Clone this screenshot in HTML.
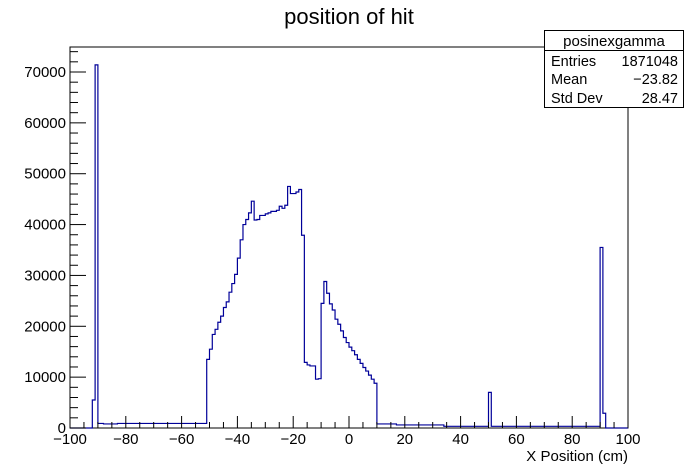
<!DOCTYPE html>
<html><head><meta charset="utf-8"><style>
body{margin:0;background:#fff;}
svg{display:block;font-family:"Liberation Sans",sans-serif;}
</style></head><body>
<svg id="c" width="698" height="476"></svg>
<script>
const binLow = -100, binWidth = 1;
const counts = [
0,0,0,0,0,0,0,0,            // -100..-93
5500,71400,                  // -92,-91
900,900,800,800,800,800,800,900,900,900, // -90..-81
900,900,900,900,900,900,900,900,900,900, // -80..-71
900,900,900,900,900,900,900,900,900,900, // -70..-61
900,900,900,900,900,900,900,900,900,     // -60..-52
13500,15500,18400,19400,20800,22000,23700,24800,26700,28400, // -51..-42
30200,33400,37000,40000,41000,42300,44600,40900,41000,41800, // -41..-32
41800,42100,42300,42600,42600,42800,43600,43200,43800,47500, // -31..-22
46100,46100,46400,46900,37900,12900,12400,12200,12200,9600,  // -21..-12
9700,24500,28800,26500,24400,23200,21400,20400,19100,17800,  // -11..-2
16800,15900,15200,14400,13500,12700,11900,11200,10400,9600,  // -1..8
8800,                                                        // 9
800,800,800,800,800,800,800,600,600,600,600,600,600,600,600,600,600,600,600,600,600,600,600,600, // 10..33
330,330,330,330,330,330,330,330,330,330,330,330,330,330,330,330, // 34..49
7000,                                                        // 50
330,330,330,330,330,330,330,330,330,330,330,330,330,330,330,330,330,330,330,330, // 51..70
330,330,330,330,330,330,330,330,330,330,330,330,330,330,330,330,330,330,330, // 71..89
35500,2900,                                                  // 90,91
0,0,0,0,0,0,0,0                                              // 92..99
];
const xTicks = [-100,-80,-60,-40,-20,0,20,40,60,80,100];
const yTicks = [0,10000,20000,30000,40000,50000,60000,70000];

const X0=70,X1=628,Y0=428,Y1=47;
const xs = v => X0 + (v+100)/200*(X1-X0);
const ys = v => Y0 - v/70000*(428-72);
const svg = document.getElementById('c');
const NS='http://www.w3.org/2000/svg';
function mk(t,a){const e=document.createElementNS(NS,t);for(const k in a)e.setAttribute(k,a[k]);svg.appendChild(e);return e;}

let fr=mk('rect',{x:X0,y:Y1,width:X1-X0,height:Y0-Y1,fill:'none',stroke:'#000','stroke-width':1});



// histogram
let d='M'+xs(binLow)+' '+Y0;
for(let i=0;i<counts.length;i++){
  const a=xs(binLow+i*binWidth), b=xs(binLow+(i+1)*binWidth), y=ys(counts[i]);
  d+=' L'+a+' '+y+' L'+b+' '+y;
}
d+=' L'+xs(100)+' '+Y0;
let h=mk('path',{d:d,fill:'none',stroke:'#000099','stroke-width':1.2});



// x ticks
for(let v=-100;v<=100;v+=5){
  const major=(v%20===0);
  const t=mk('line',{x1:xs(v),x2:xs(v),y1:Y0,y2:Y0-(major?12:6),stroke:'#000'});
  
  
}
xTicks.forEach(v=>{
  const t=mk('text',{x:xs(v),y:444,'font-size':15,'text-anchor':'middle'});
  t.textContent=(v<0?'\u2212'+(-v):v);
  
  
});
// y ticks
for(let v=0;v<=74000;v+=2000){
  const major=(v%10000===0);
  const t=mk('line',{x1:X0,x2:X0+(major?16:8),y1:ys(v),y2:ys(v),stroke:'#000'});
  
  
}
yTicks.forEach(v=>{
  const t=mk('text',{x:66,y:ys(v)+5,'font-size':15,'text-anchor':'end'});
  t.textContent=v;
  
  
});
let xt=mk('text',{x:628,y:461,'font-size':15,'text-anchor':'end'});
xt.textContent='X Position (cm)';


let tt=mk('text',{x:349,y:24,'font-size':22,'text-anchor':'middle'});
tt.textContent='position of hit';



// stats box
let sb=mk('rect',{x:544.5,y:30.5,width:139,height:77,fill:'#fff',stroke:'#000'});


mk('line',{x1:544.5,x2:683.5,y1:50.5,y2:50.5,stroke:'#000'});
let st=mk('text',{x:614,y:46,'font-size':15,'text-anchor':'middle'});
st.textContent='posinexgamma';


[['Entries','1871048',66],['Mean','\u221223.82',84],['Std Dev','28.47',103]].forEach(r=>{
  const a=mk('text',{x:551,y:r[2],'font-size':14.5});a.textContent=r[0];
  
  
  const b=mk('text',{x:678,y:r[2],'font-size':14.5,'text-anchor':'end'});b.textContent=r[1];
  
  
});
</script>
</body></html>
